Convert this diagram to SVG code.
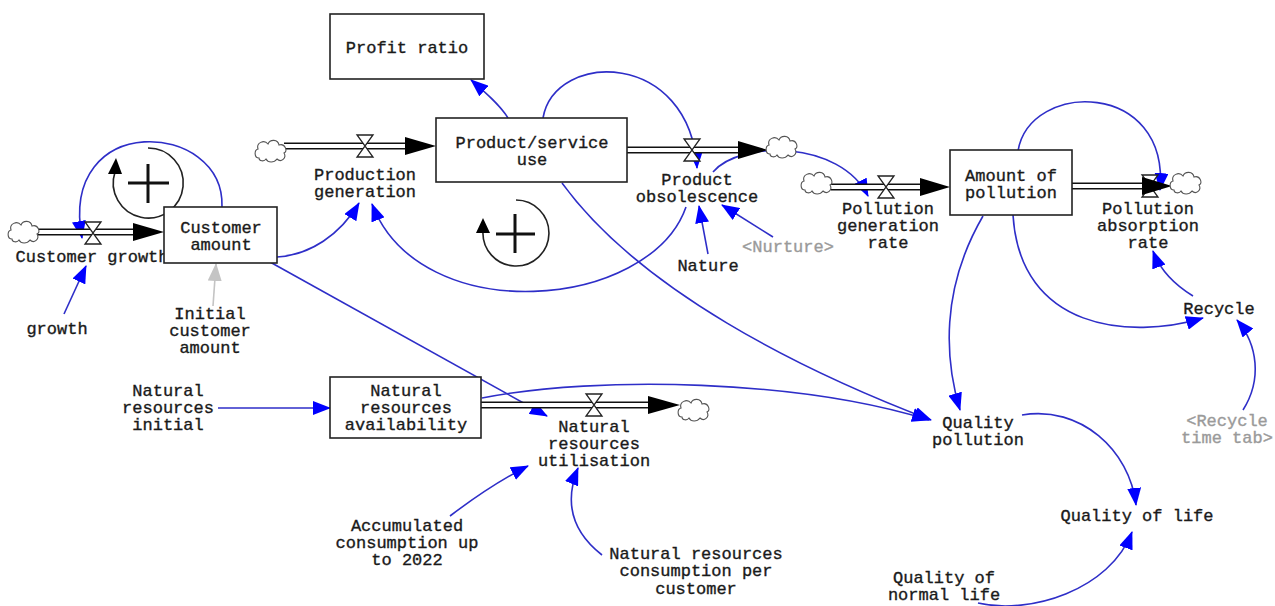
<svg xmlns="http://www.w3.org/2000/svg" width="1275" height="606" viewBox="0 0 1275 606">
<defs>
<style>
text{font-family:"Liberation Mono","DejaVu Sans Mono",monospace;font-size:17px;fill:#1a1a1a;stroke:#1a1a1a;stroke-width:0.35;text-anchor:middle}
text.g{fill:#9a9a9a;stroke:#9a9a9a}
.box{fill:#fff;stroke:#222;stroke-width:1.6}
.pipeo{fill:none;stroke:#111;stroke-width:7}
.pipei{fill:none;stroke:#fff;stroke-width:4}
.head{fill:#000}
.valve{fill:#fff;stroke:#222;stroke-width:1.3}
.cloud{fill:#fff;stroke:#555;stroke-width:1.1}
.lk{fill:none;stroke:#2e2ec8;stroke-width:1.6;marker-end:url(#ab)}
.lkg{fill:none;stroke:#c4c4c4;stroke-width:1.6;marker-end:url(#ag)}
.loop{fill:none;stroke:#222;stroke-width:1.6}
.plus{stroke:#111;stroke-width:3}
</style>
<marker id="ab" markerUnits="userSpaceOnUse" markerWidth="18" markerHeight="14" viewBox="0 0 18 14" refX="17" refY="7" orient="auto"><path d="M0,0 L18,7 L0,14 Z" fill="#0000ff"/></marker>
<marker id="ag" markerUnits="userSpaceOnUse" markerWidth="18" markerHeight="14" viewBox="0 0 18 14" refX="17" refY="7" orient="auto"><path d="M0,0 L18,7 L0,14 Z" fill="#c4c4c4"/></marker>
<path id="cl" class="cloud" d="M-12,7 C-17,7 -17,-1 -13,-2 C-15,-8 -7,-12 -3,-7 C-1,-12 7,-12 8,-6 C14,-8 17,0 13,2 C16,7 10,12 6,8 C3,12 -3,12 -5,8 C-7,11 -12,10 -12,7 Z"/>
<path id="vl" class="valve" d="M-8,-11 L8,-11 L-8,11 L8,11 Z"/>
</defs>
<rect width="1275" height="606" fill="#fff"/>

<g id="connectors">
<path class="lk" d="M222,207 C225,120 58,110 82,238"/>
<path class="lk" d="M508,118 C500,105 485,92 471,80"/>
<path class="lk" d="M543,118 C555,50 690,50 697,168"/>
<path class="lk" d="M686,207 C650,310 420,330 372,204"/>
<path class="lk" d="M277,257 C310,255 340,235 359,203"/>
<path class="lk" d="M270,262 L547,416"/>
<path class="lk" d="M562,183 C640,290 800,370 931,420"/>
<path class="lk" d="M482,398 C600,375 800,380 929,420"/>
<path class="lk" d="M218,408 L330,408"/>
<path class="lk" d="M450,516 C475,497 500,480 528,466"/>
<path class="lk" d="M602,555 C570,530 565,500 578,468"/>
<path class="lk" d="M713,172 C740,140 840,140 868,196"/>
<path class="lk" d="M708,254 L699,206"/>
<path class="lk" d="M773,237 L722,205"/>
<path class="lk" d="M1018,151 C1030,80 1170,80 1160,190"/>
<path class="lk" d="M1013,215 C1020,330 1130,340 1203,318"/>
<path class="lk" d="M983,216 C940,290 945,360 960,410"/>
<path class="lk" d="M1193,296 C1175,285 1160,270 1153,251"/>
<path class="lk" d="M1243,410 C1262,380 1258,345 1237,320"/>
<path class="lk" d="M1022,415 C1080,405 1130,450 1136,505"/>
<path class="lk" d="M978,603 C1030,615 1110,590 1132,532"/>
<path class="lk" d="M64,314 L86,266"/>
<path class="lkg" d="M213,306 L216,264"/>
</g>

<g id="loop-customer">
<path class="loop" d="M148,148 A35,35 0 1 1 115,172"/>
<path class="head" d="M108,174 L116,158 L122,174 Z"/>
<line class="plus" x1="128" y1="183" x2="169" y2="183"/>
<line class="plus" x1="148" y1="164" x2="148" y2="203"/>
</g>
<g id="loop-product">
<path class="loop" d="M516,200 A33,33 0 1 1 483,231"/>
<path class="head" d="M476,233 L483,218 L490,233 Z"/>
<line class="plus" x1="496" y1="234" x2="535" y2="234"/>
<line class="plus" x1="515" y1="214" x2="515" y2="253"/>
</g>

<g id="flow-customer-growth">
<path class="pipeo" d="M35,232 H136"/><path class="pipei" d="M33,232 H140"/>
<path class="head" d="M133,223 L164,232 L133,241 Z"/>
<use href="#cl" x="24" y="232"/>
<use href="#vl" x="93" y="233"/>
<text x="92" y="262">Customer growth</text>
</g>
<g id="flow-production-generation">
<path class="pipeo" d="M284,146 H408"/><path class="pipei" d="M282,146 H410"/>
<path class="head" d="M405,137 L436,146 L405,155 Z"/>
<use href="#cl" x="271" y="151"/>
<use href="#vl" x="365" y="146"/>
<text x="365" y="180">Production</text>
<text x="365" y="197">generation</text>
</g>
<g id="flow-product-obsolescence">
<path class="pipeo" d="M627,150 H741"/><path class="pipei" d="M625,150 H743"/>
<path class="head" d="M738,141 L768,150 L738,159 Z"/>
<use href="#cl" x="782" y="147"/>
<use href="#vl" x="692" y="150"/>
<text x="697" y="185">Product</text>
<text x="697" y="202">obsolescence</text>
</g>
<g id="flow-pollution-generation">
<path class="pipeo" d="M831,187 H923"/><path class="pipei" d="M829,187 H925"/>
<path class="head" d="M920,178 L950,187 L920,196 Z"/>
<use href="#cl" x="817" y="183"/>
<use href="#vl" x="886" y="187"/>
<text x="888" y="214">Pollution</text>
<text x="888" y="231">generation</text>
<text x="888" y="248">rate</text>
</g>
<g id="flow-pollution-absorption">
<path class="pipeo" d="M1072,186 H1145"/><path class="pipei" d="M1070,186 H1147"/>
<use href="#vl" x="1150" y="186"/>
<path class="head" d="M1142,177 L1172,186 L1142,195 Z"/>
<use href="#cl" x="1186" y="183"/>
<text x="1148" y="214">Pollution</text>
<text x="1148" y="231">absorption</text>
<text x="1148" y="248">rate</text>
</g>
<g id="flow-nr-utilisation">
<path class="pipeo" d="M481,405 H651"/><path class="pipei" d="M479,405 H653"/>
<path class="head" d="M648,396 L680,405 L648,414 Z"/>
<use href="#cl" x="694" y="410"/>
<use href="#vl" x="594" y="405"/>
<text x="594" y="432">Natural</text>
<text x="594" y="449">resources</text>
<text x="594" y="466">utilisation</text>
</g>

<g id="profit-ratio"><rect class="box" x="330" y="14" width="154" height="65"/><text x="407" y="53">Profit ratio</text></g>
<g id="product-service-use"><rect class="box" x="436" y="118" width="191" height="64"/><text x="532" y="148">Product/service</text><text x="532" y="165">use</text></g>
<g id="customer-amount"><rect class="box" x="164" y="207" width="113" height="56"/><text x="221" y="233">Customer</text><text x="221" y="250">amount</text></g>
<g id="amount-of-pollution"><rect class="box" x="950" y="150" width="122" height="65"/><text x="1011" y="181">Amount of</text><text x="1011" y="198">pollution</text></g>
<g id="nr-availability"><rect class="box" x="330" y="377" width="151" height="61"/><text x="406" y="396">Natural</text><text x="406" y="413">resources</text><text x="406" y="430">availability</text></g>

<g id="growth"><text x="57" y="334">growth</text></g>
<g id="initial-customer-amount"><text x="210" y="319">Initial</text><text x="210" y="336">customer</text><text x="210" y="353">amount</text></g>
<g id="nr-initial"><text x="168" y="396">Natural</text><text x="168" y="413">resources</text><text x="168" y="430">initial</text></g>
<g id="nature"><text x="708" y="271">Nature</text></g>
<g id="nurture"><text class="g" x="788" y="252">&lt;Nurture&gt;</text></g>
<g id="recycle"><text x="1219" y="314">Recycle</text></g>
<g id="recycle-time-tab"><text class="g" x="1227" y="426">&lt;Recycle</text><text class="g" x="1227" y="443">time tab&gt;</text></g>
<g id="quality-pollution"><text x="978" y="428">Quality</text><text x="978" y="445">pollution</text></g>
<g id="quality-of-life"><text x="1137" y="521">Quality of life</text></g>
<g id="quality-normal-life"><text x="944" y="583">Quality of</text><text x="944" y="600">normal life</text></g>
<g id="accumulated"><text x="407" y="531">Accumulated</text><text x="407" y="548">consumption up</text><text x="407" y="565">to 2022</text></g>
<g id="nr-consumption"><text x="696" y="559">Natural resources</text><text x="696" y="576">consumption per</text><text x="696" y="594">customer</text></g>
</svg>
